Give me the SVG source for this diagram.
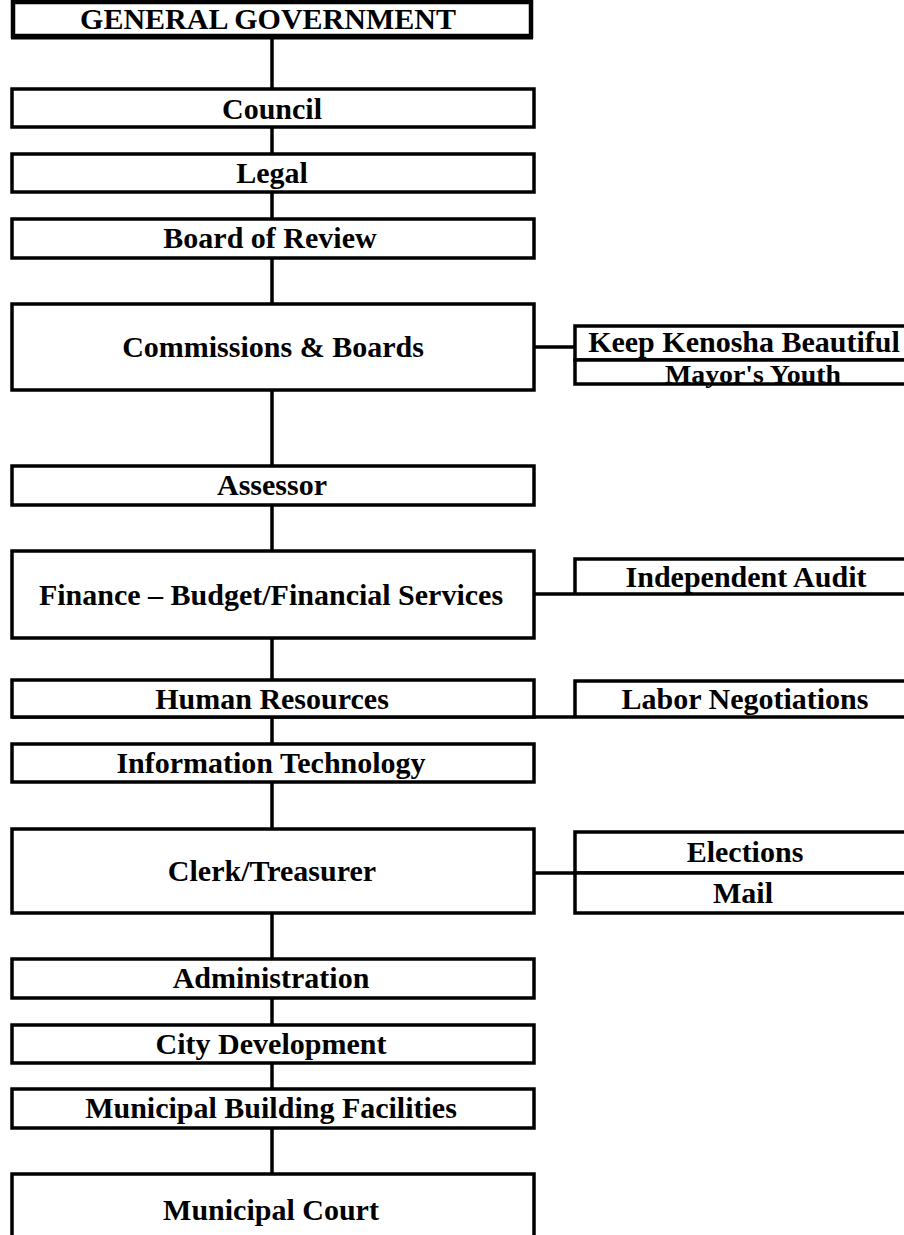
<svg xmlns="http://www.w3.org/2000/svg" width="904" height="1235" viewBox="0 0 904 1235">
  <style>
    .box { fill: #fff; stroke: #000; stroke-width: 3.5; }
    .link { fill: none; stroke: #000; stroke-width: 3.5; }
    .lbl { font-family: "Liberation Serif", "Times New Roman", serif; font-weight: bold; font-size: 30px; fill: #000; text-anchor: middle; }
    .small { font-size: 26px; }
  </style>
  <rect width="904" height="1235" fill="#fff"/>

  <!-- vertical spine and side links -->
  <g id="connectors">
    <line class="link" x1="272" y1="36" x2="272" y2="1174"/>
    <line class="link" x1="534" y1="347" x2="575" y2="347"/>
    <line class="link" x1="534" y1="594" x2="904" y2="594"/>
    <line class="link" x1="12" y1="717" x2="904" y2="717"/>
    <line class="link" x1="534" y1="873" x2="575" y2="873"/>
  </g>

  <g id="general-government">
    <rect x="13" y="2" width="518" height="34" fill="#fff" stroke="#000" stroke-width="4.5"/>
    <line x1="11" y1="37" x2="533" y2="37" stroke="#000" stroke-width="5"/>
    <text class="lbl" x="268" y="29">GENERAL GOVERNMENT</text>
  </g>
  <g id="council">
    <rect class="box" x="12" y="89" width="522" height="38"/>
    <text class="lbl" x="272" y="119">Council</text>
  </g>
  <g id="legal">
    <rect class="box" x="12" y="154" width="522" height="38"/>
    <text class="lbl" x="272" y="183">Legal</text>
  </g>
  <g id="board-of-review">
    <rect class="box" x="12" y="219" width="522" height="39"/>
    <text class="lbl" x="270" y="248">Board of Review</text>
  </g>
  <g id="commissions-boards">
    <rect class="box" x="12" y="304" width="522" height="86"/>
    <text class="lbl" x="273" y="357">Commissions &amp; Boards</text>
  </g>
  <g id="keep-kenosha-beautiful">
    <rect class="box" x="575" y="326" width="340" height="34"/>
    <text class="lbl" x="744" y="352">Keep Kenosha Beautiful</text>
  </g>
  <g id="mayors-youth">
    <rect class="box" x="575" y="360" width="340" height="24"/>
    <text class="lbl small" x="753" y="383" textLength="176" lengthAdjust="spacingAndGlyphs">Mayor's Youth</text>
  </g>
  <g id="assessor">
    <rect class="box" x="12" y="466" width="522" height="39"/>
    <text class="lbl" x="272" y="495">Assessor</text>
  </g>
  <g id="finance">
    <rect class="box" x="12" y="551" width="522" height="87"/>
    <text class="lbl" x="271" y="605">Finance – Budget/Financial Services</text>
  </g>
  <g id="independent-audit">
    <path class="link" d="M575 594 V559 H915"/>
    <text class="lbl" x="746" y="587">Independent Audit</text>
  </g>
  <g id="human-resources">
    <rect class="box" x="12" y="680" width="522" height="37"/>
    <text class="lbl" x="272" y="709">Human Resources</text>
  </g>
  <g id="labor-negotiations">
    <path class="link" d="M575 717 V681 H915"/>
    <text class="lbl" x="745" y="709">Labor Negotiations</text>
  </g>
  <g id="information-technology">
    <rect class="box" x="12" y="744" width="522" height="38"/>
    <text class="lbl" x="271" y="773">Information Technology</text>
  </g>
  <g id="clerk-treasurer">
    <rect class="box" x="12" y="829" width="522" height="84"/>
    <text class="lbl" x="272" y="881">Clerk/Treasurer</text>
  </g>
  <g id="elections">
    <rect class="box" x="575" y="832" width="340" height="41"/>
    <text class="lbl" x="745" y="862">Elections</text>
  </g>
  <g id="mail">
    <rect class="box" x="575" y="873" width="340" height="40"/>
    <text class="lbl" x="743" y="903">Mail</text>
  </g>
  <g id="administration">
    <rect class="box" x="12" y="959" width="522" height="39"/>
    <text class="lbl" x="271" y="988">Administration</text>
  </g>
  <g id="city-development">
    <rect class="box" x="12" y="1025" width="522" height="38"/>
    <text class="lbl" x="271" y="1054">City Development</text>
  </g>
  <g id="municipal-building-facilities">
    <rect class="box" x="12" y="1089" width="522" height="39"/>
    <text class="lbl" x="271" y="1118">Municipal Building Facilities</text>
  </g>
  <g id="municipal-court">
    <rect class="box" x="12" y="1174" width="522" height="80"/>
    <text class="lbl" x="271" y="1220">Municipal Court</text>
  </g>
</svg>
